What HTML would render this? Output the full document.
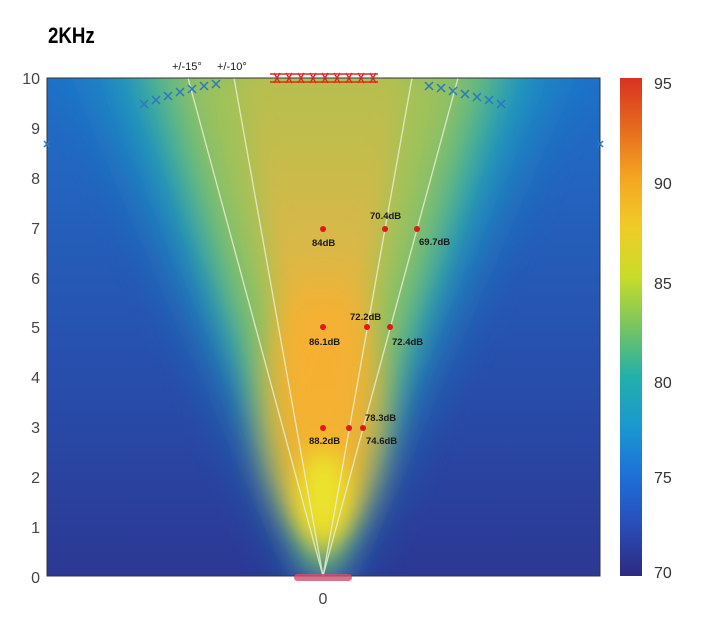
<!DOCTYPE html>
<html><head><style>
body{margin:0;background:#fff;width:708px;height:624px;overflow:hidden}
</style></head><body>
<svg width="708" height="624" xmlns="http://www.w3.org/2000/svg" font-family="Liberation Sans, sans-serif">
<defs>
<linearGradient id="bg" x1="0" y1="0" x2="0" y2="1">
<stop offset="0" stop-color="#1f70c8"/><stop offset="0.45" stop-color="#2656b4"/><stop offset="1" stop-color="#2c3894"/>
</linearGradient>
<linearGradient id="cb" x1="0" y1="0" x2="0" y2="1">
<stop offset="0" stop-color="#d83222"/><stop offset="0.1" stop-color="#e66a1e"/><stop offset="0.2" stop-color="#f5a522"/><stop offset="0.3" stop-color="#f0cc28"/><stop offset="0.4" stop-color="#c8dc2a"/><stop offset="0.5" stop-color="#78c460"/><stop offset="0.6" stop-color="#22b0aa"/><stop offset="0.7" stop-color="#1a98d0"/><stop offset="0.8" stop-color="#1e70d8"/><stop offset="0.9" stop-color="#2a4cb8"/><stop offset="1" stop-color="#2c2a80"/>
</linearGradient>
<linearGradient id="core" x1="0" y1="0" x2="0" y2="1">
<stop offset="0" stop-color="#b0c050"/><stop offset="0.35" stop-color="#d8b848"/><stop offset="0.6" stop-color="#f4b434"/><stop offset="0.85" stop-color="#f0dc20"/><stop offset="1" stop-color="#e8e030"/>
</linearGradient>
<filter id="b1" x="-50%" y="-50%" width="200%" height="200%"><feGaussianBlur stdDeviation="28"/></filter>
<filter id="b2" x="-50%" y="-50%" width="200%" height="200%"><feGaussianBlur stdDeviation="18"/></filter>
<filter id="b3" x="-50%" y="-50%" width="200%" height="200%"><feGaussianBlur stdDeviation="12"/></filter>
<clipPath id="pc"><rect x="47" y="78" width="553" height="498"/></clipPath>
</defs>
<text x="48" y="43" font-family="Liberation Sans Narrow, Liberation Sans, sans-serif" font-weight="bold" font-size="22" transform="translate(48 0) scale(0.85 1) translate(-48 0)">2KHz</text>
<g clip-path="url(#pc)">
<rect x="47" y="78" width="553" height="498" fill="url(#bg)"/>
<polygon points="323,600 80,40 566,40" fill="#1e9ec0" filter="url(#b1)" opacity="0.9"/>
<polygon points="323,590 130,40 516,40" fill="#58b888" filter="url(#b2)"/>
<polygon points="323,580 175,60 471,60" fill="#a0c25a" filter="url(#b2)"/>
<polygon points="323,570 235,60 411,60" fill="url(#core)" filter="url(#b3)"/>
<ellipse cx="323" cy="410" rx="58" ry="125" fill="#f6b030" filter="url(#b2)" opacity="0.9"/>
<ellipse cx="323" cy="495" rx="25" ry="45" fill="#eae42a" filter="url(#b3)"/>
<g stroke="#e8f0d0" stroke-width="1.3" opacity="0.85">
<line x1="323" y1="576" x2="188" y2="78"/><line x1="323" y1="576" x2="234" y2="78"/>
<line x1="323" y1="576" x2="412" y2="78"/><line x1="323" y1="576" x2="458" y2="78"/>
</g>
</g>
<rect x="47" y="78" width="553" height="498" fill="none" stroke="#333" stroke-width="1"/>
<g stroke="#2a78c0" stroke-width="1.5" fill="none">
<path d="M140,108 l8,-8 m-8,0 l8,8 M152,104 l8,-8 m-8,0 l8,8 M164,100 l8,-8 m-8,0 l8,8 M176,96 l8,-8 m-8,0 l8,8 M188,93 l8,-8 m-8,0 l8,8 M200,90 l8,-8 m-8,0 l8,8 M212,88 l8,-8 m-8,0 l8,8"/>
<path d="M425,90 l8,-8 m-8,0 l8,8 M437,92 l8,-8 m-8,0 l8,8 M449,95 l8,-8 m-8,0 l8,8 M461,98 l8,-8 m-8,0 l8,8 M473,101 l8,-8 m-8,0 l8,8 M485,104 l8,-8 m-8,0 l8,8 M497,108 l8,-8 m-8,0 l8,8"/>
<path d="M44,141 l6,6 m-6,0 l6,-6 M597,141 l6,6 m-6,0 l6,-6"/>
</g>
<g fill="none" stroke="#e02828" stroke-width="1.4">
<path d="M270,74 h108 M270,82 h108"/>
<path d="M274,73 l6,10 m-6,0 l6,-10 M286,73 l6,10 m-6,0 l6,-10 M298,73 l6,10 m-6,0 l6,-10 M310,73 l6,10 m-6,0 l6,-10 M322,73 l6,10 m-6,0 l6,-10 M334,73 l6,10 m-6,0 l6,-10 M346,73 l6,10 m-6,0 l6,-10 M358,73 l6,10 m-6,0 l6,-10 M370,73 l6,10 m-6,0 l6,-10"/>
</g>
<rect x="294" y="574" width="58" height="7" rx="3.5" fill="#d05070" opacity="0.8"/>
<g fill="#e01818">
<circle cx="323" cy="229" r="3"/><circle cx="385" cy="229" r="3"/><circle cx="417" cy="229" r="3"/>
<circle cx="323" cy="327" r="3"/><circle cx="367" cy="327" r="3"/><circle cx="390" cy="327" r="3"/>
<circle cx="323" cy="428" r="3"/><circle cx="349" cy="428" r="3"/><circle cx="363" cy="428" r="3"/>
</g>
<g font-size="9.5" font-weight="bold" fill="#1a1a1a" font-family="Liberation Sans Narrow, Liberation Sans, sans-serif">
<text x="312" y="246">84dB</text><text x="370" y="219">70.4dB</text><text x="419" y="245">69.7dB</text>
<text x="309" y="345">86.1dB</text><text x="350" y="320">72.2dB</text><text x="392" y="345">72.4dB</text>
<text x="309" y="444">88.2dB</text><text x="365" y="421">78.3dB</text><text x="366" y="444">74.6dB</text>
<text x="172" y="70" font-weight="normal" font-size="11">+/-15°</text><text x="217" y="70" font-weight="normal" font-size="11">+/-10°</text>
</g>
<g font-size="16" fill="#444" text-anchor="end">
<text x="40" y="84">10</text><text x="40" y="134">9</text><text x="40" y="184">8</text><text x="40" y="234">7</text><text x="40" y="284">6</text><text x="40" y="333">5</text><text x="40" y="383">4</text><text x="40" y="433">3</text><text x="40" y="483">2</text><text x="40" y="533">1</text><text x="40" y="583">0</text>
</g>
<text x="323" y="604" font-size="16" fill="#444" text-anchor="middle">0</text>
<rect x="620" y="78" width="22" height="498" fill="url(#cb)"/>
<g font-size="16" fill="#333">
<text x="654" y="89">95</text><text x="654" y="189">90</text><text x="654" y="289">85</text><text x="654" y="388">80</text><text x="654" y="483">75</text><text x="654" y="578">70</text>
</g>
</svg>
</body></html>
